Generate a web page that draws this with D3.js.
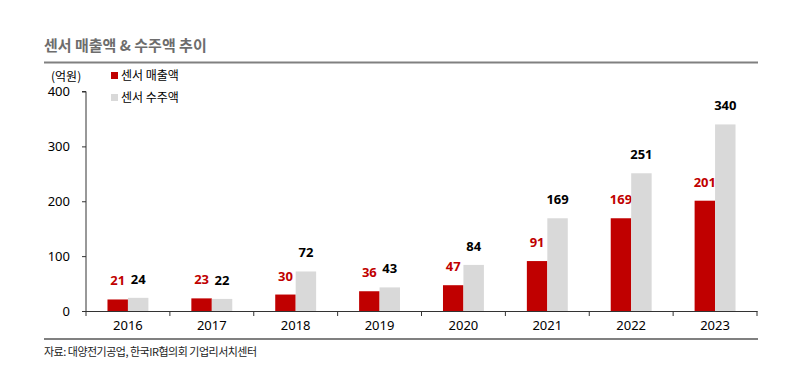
<!DOCTYPE html>
<html>
<head>
<meta charset="utf-8">
<script src="https://cdn.jsdelivr.net/npm/d3@7"></script>
<style>
  body { margin: 0; background: #fff; }
  svg { display: block; }
  text { font-family: "Noto Sans CJK KR", "Noto Sans", sans-serif; }
  .num { font-family: "Noto Sans", "DejaVu Sans", sans-serif; }
</style>
</head>
<body>
<div id="chart"></div>
<script>
// data
const years = ['2016', '2017', '2018', '2019', '2020', '2021', '2022', '2023'];
const sales = [21, 23, 30, 36, 47, 91, 169, 201];
const orders = [24, 22, 72, 43, 84, 169, 251, 340];
const yTicks = [0, 100, 200, 300, 400];
const seriesNames = ['센서 매출액', '센서 수주액'];
const seriesColors = ['#c00000', '#d9d9d9'];

const width = 798, height = 386;
const margin = {top: 91.5, left: 86, right: 41, bottom: 75};

const svg = d3.select('#chart').append('svg')
  .attr('width', width)
  .attr('height', height);

// title + rules
svg.append('text')
  .attr('x', 44)
  .attr('y', 51)
  .attr('fill', '#6d6d6d')
  .style('font-size', '15px')
  .style('font-weight', 'bold')
  .text('센서 매출액 & 수주액 추이');

svg.append('line')
  .attr('x1', 44).attr('x2', 758)
  .attr('y1', 62.5).attr('y2', 62.5)
  .attr('stroke', '#808080')
  .attr('stroke-width', 2);

svg.append('line')
  .attr('x1', 44).attr('x2', 758)
  .attr('y1', 339).attr('y2', 339)
  .attr('stroke', '#808080')
  .attr('stroke-width', 2);

svg.append('text')
  .attr('x', 44)
  .attr('y', 356)
  .attr('fill', '#222')
  .style('font-size', '11px')
  .style('letter-spacing', '-0.5px')
  .text('자료: 대양전기공업, 한국IR협의회 기업리서치센터');

// scales
const plotBottom = 311;
const x = d3.scaleBand()
  .domain(years)
  .range([margin.left, width - margin.right]);

const y = d3.scaleLinear()
  .domain([0, 400])
  .range([plotBottom, margin.top]);

const inner = d3.scaleBand()
  .domain([0, 1])
  .range([0, x.bandwidth()])
  .paddingOuter(1.05)
  .paddingInner(0);

// y axis
const yAxis = svg.append('g')
  .attr('transform', `translate(${margin.left},0)`)
  .call(d3.axisLeft(y).tickValues(yTicks).tickSize(4).tickPadding(12));
yAxis.select('.domain').attr('stroke', '#333').attr('d', `M-4,${y(400)}H0V${plotBottom}`);
yAxis.selectAll('.tick line').attr('stroke', '#333');
yAxis.selectAll('.tick text')
  .attr('class', 'num')
  .attr('fill', '#000')
  .style('font-size', '13px');

// x axis
const xAxis = svg.append('g')
  .attr('transform', `translate(0,${plotBottom})`)
  .call(d3.axisBottom(x).tickSize(0).tickPadding(10));
xAxis.select('.domain').attr('stroke', '#333');
xAxis.selectAll('.tick text')
  .attr('class', 'num')
  .attr('fill', '#000')
  .style('font-size', '13px');

// tick marks between the categories
svg.append('g')
  .selectAll('line')
  .data(years.concat(['end']))
  .join('line')
  .attr('x1', (d, i) => i < years.length ? x(d) : x(years[years.length - 1]) + x.bandwidth())
  .attr('x2', (d, i) => i < years.length ? x(d) : x(years[years.length - 1]) + x.bandwidth())
  .attr('y1', plotBottom)
  .attr('y2', plotBottom + 5)
  .attr('stroke', '#333');

// bars
const series = [sales, orders];
series.forEach((vals, s) => {
  svg.append('g')
    .selectAll('rect')
    .data(vals)
    .join('rect')
    .attr('x', (d, i) => x(years[i]) + inner(s))
    .attr('y', d => y(d))
    .attr('width', inner.bandwidth())
    .attr('height', d => plotBottom - y(d))
    .attr('fill', seriesColors[s]);

  svg.append('g')
    .selectAll('text')
    .data(vals)
    .join('text')
    .attr('class', 'num')
    .attr('x', (d, i) => x(years[i]) + inner(s) + inner.bandwidth() / 2)
    .attr('y', d => y(d) - 14)
    .attr('text-anchor', 'middle')
    .attr('fill', s === 0 ? '#c00000' : '#000')
    .style('font-size', '13px')
    .style('font-weight', 'bold')
    .text(d => d);
});

// redraw the baseline over the bars
svg.append('line')
  .attr('x1', margin.left).attr('x2', width - margin.right)
  .attr('y1', plotBottom + 0.5).attr('y2', plotBottom + 0.5)
  .attr('stroke', '#333');

// unit label
svg.append('text')
  .attr('x', 51)
  .attr('y', 81)
  .attr('fill', '#000')
  .style('font-size', '12px')
  .text('(억원)');

// legend
const legend = svg.append('g').attr('transform', 'translate(111,72)');
seriesNames.forEach((name, i) => {
  legend.append('rect')
    .attr('x', 0)
    .attr('y', i * 22)
    .attr('width', 7)
    .attr('height', 7)
    .attr('fill', seriesColors[i]);
  legend.append('text')
    .attr('x', 10)
    .attr('y', i * 22 + 7.5)
    .attr('fill', '#000')
    .style('font-size', '12px')
    .text(name);
});
</script>
</body>
</html>
